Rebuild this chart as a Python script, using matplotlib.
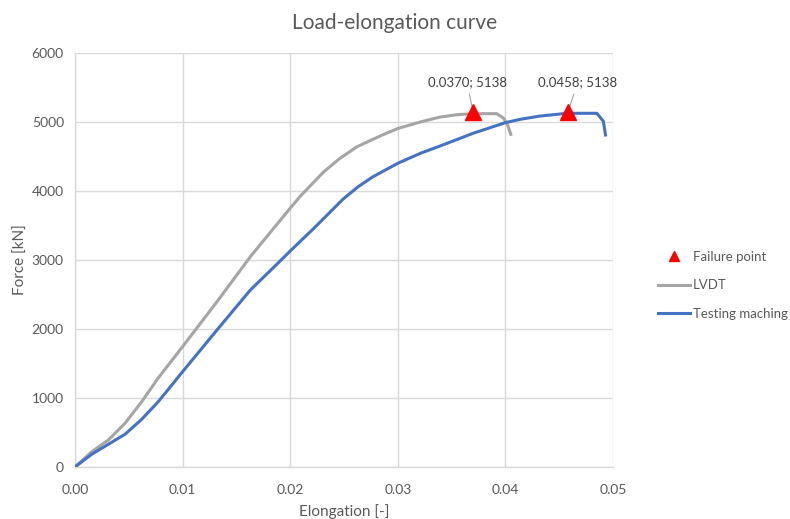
import numpy as np
import matplotlib
matplotlib.use("Agg")
import matplotlib.pyplot as plt

plt.rcParams['font.family'] = ['Lato', 'DejaVu Sans']

# LVDT curve
lvdt_x = [0, 0.00155, 0.0031, 0.00465, 0.0062, 0.00774, 0.010, 0.0132, 0.0163, 0.0191, 0.0209,
          0.0231, 0.0246, 0.0262, 0.0284, 0.030, 0.0321, 0.0339, 0.0355, 0.037, 0.0392, 0.0398,
          0.0402, 0.0405]
lvdt_y = [0, 220, 391, 633, 946, 1290, 1744, 2396, 3048, 3580, 3918,
          4275, 4470, 4640, 4800, 4905, 5000, 5070, 5105, 5120, 5120, 5058,
          4960, 4820]

# testing machine curve
tm_x = [0, 0.00155, 0.0031, 0.00465, 0.0062, 0.00774, 0.010, 0.0132, 0.0163, 0.0191, 0.020,
        0.0222, 0.0249, 0.0263, 0.0277, 0.030, 0.0321, 0.0339, 0.037, 0.040, 0.0414, 0.0432,
        0.0457, 0.0485, 0.0491, 0.0493]
tm_y = [0, 184, 329, 474, 691, 946, 1381, 1986, 2565, 2990, 3130,
        3459, 3880, 4060, 4207, 4401, 4546, 4650, 4836, 4990, 5039, 5085,
        5125, 5125, 5010, 4811]

# failure points
fail_x = [0.0370, 0.0458]
fail_y = [5138, 5138]
fail_labels = ["0.0370; 5138", "0.0458; 5138"]
label_x = [0.03643, 0.0467]
label_y = [5570, 5570]

grid_c = "#D9D9D9"
text_c = "#595959"

fig = plt.figure(figsize=(7.9, 5.19), dpi=100)
ax = fig.add_axes([0.0949, 0.1002, 0.776 - 0.0949, 0.898 - 0.1002])

ax.plot(fail_x, fail_y, linestyle="none", marker="^", color="red", markersize=11.5, label="Failure point", zorder=6)
ax.plot(lvdt_x, lvdt_y, color="#A5A5A5", lw=2.2, label="LVDT", zorder=3)
ax.plot(tm_x, tm_y, color="#4472C4", lw=2.2, label="Testing maching", zorder=4)

for x, y, tx, ty, t in zip(fail_x, fail_y, label_x, label_y, fail_labels):
    ax.annotate(t, xy=(x, y), xytext=(tx, ty), ha="center", va="center",
                fontsize=9.5, color="#404040", zorder=5,
                arrowprops=dict(arrowstyle="-", color="#A5A5A5", lw=0.8, shrinkA=2, shrinkB=0))

ax.set_xlim(0, 0.05)
ax.set_ylim(0, 6000)
ax.set_xticks(np.arange(0, 0.051, 0.01))
ax.set_yticks(np.arange(0, 6001, 1000))
ax.xaxis.set_major_formatter(matplotlib.ticker.FormatStrFormatter("%.2f"))
ax.grid(True, color=grid_c, lw=1)
ax.set_axisbelow(True)
for s in ["top", "right"]:
    ax.spines[s].set_visible(False)
for s in ["left", "bottom"]:
    ax.spines[s].set_color(grid_c)
    ax.spines[s].set_linewidth(1)
ax.tick_params(length=0, labelsize=10, colors=text_c)
ax.tick_params(axis="x", pad=12)
ax.tick_params(axis="y", pad=8)

ax.set_xlabel("Elongation [-]", fontsize=11, color=text_c, labelpad=6)
ax.set_ylabel("Force [kN]", fontsize=11, color=text_c, labelpad=3)
fig.suptitle("Load-elongation curve", fontsize=15, color=text_c, y=0.975, x=0.5)

fig.legend(loc="upper left", bbox_to_anchor=(0.833, 0.5165), frameon=False, fontsize=9.5,
           labelcolor=text_c, handlelength=2.4, labelspacing=1.25, handletextpad=0.25,
           borderpad=0, borderaxespad=0, markerscale=0.6)

fig.savefig("out.png", dpi=100)
